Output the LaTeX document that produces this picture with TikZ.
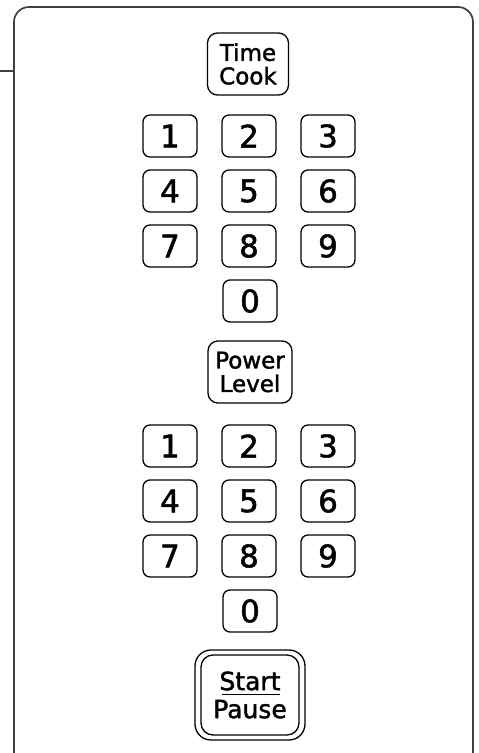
\documentclass[tikz,border=0pt]{standalone}
\usepackage{fontspec}
\newfontfamily\keyfont[RawFeature={embolden=1.6}]{DejaVu Sans}
\usepackage{tikz}

\begin{document}
\begin{tikzpicture}[x=1pt,y=-1pt,
  key/.style={draw,line width=1.3pt,rounded corners=7pt,inner sep=0pt,
    minimum width=54pt,minimum height=42pt,
    font=\keyfont\fontsize{31}{31}\selectfont},
  wordkey/.style={draw,line width=1.3pt,rounded corners=10pt,inner sep=0pt,
    align=center,font=\keyfont\fontsize{23}{23.5}\selectfont},
  panel/.style={line width=1.7pt,black!75}]

\useasboundingbox (0,0) rectangle (479,753);

\coordinate (FL) at (14,753);
\coordinate (FR) at (473,753);
\coordinate (W) at (0,71);
\coordinate (WL) at (14,71);

\draw[panel,rounded corners=15pt] (FL)--(14,7)--(473,7)--(FR);
\draw[panel,line width=1.3pt] (W)--(WL);

\node[wordkey,minimum width=81pt,minimum height=62pt] (timecook) at (248,64) {Time\\Cook};

\foreach \r in {0,1,2}
  \foreach \c in {0,1,2}{
    \pgfmathtruncatemacro\n{3*\r+\c+1}
    \node[key] (cook\n) at ({170+79*\c},{136+55*\r}) {\n};
  }
\node[key] (cook0) at (250,301) {0};

\node[wordkey,minimum width=84pt,minimum height=62pt] (powerlevel) at (250,372) {Power\\Level};

\foreach \r in {0,1,2}
  \foreach \c in {0,1,2}{
    \pgfmathtruncatemacro\n{3*\r+\c+1}
    \node[key] (power\n) at ({170+79*\c},{446+55*\r}) {\n};
  }
\node[key] (power0) at (250,611) {0};

\node[wordkey,minimum width=110pt,minimum height=90pt,rounded corners=16pt] (startrim) at (250,695) {};
\node[wordkey,minimum width=98pt,minimum height=80pt,rounded corners=12pt,
  font=\keyfont\fontsize{25}{28}\selectfont] (start) at (250,695) {Start\\Pause};
\draw[line width=0.6pt] ([xshift=-28pt,yshift=1pt]start.center)--([xshift=30pt,yshift=1pt]start.center);

\end{tikzpicture}
\end{document}
